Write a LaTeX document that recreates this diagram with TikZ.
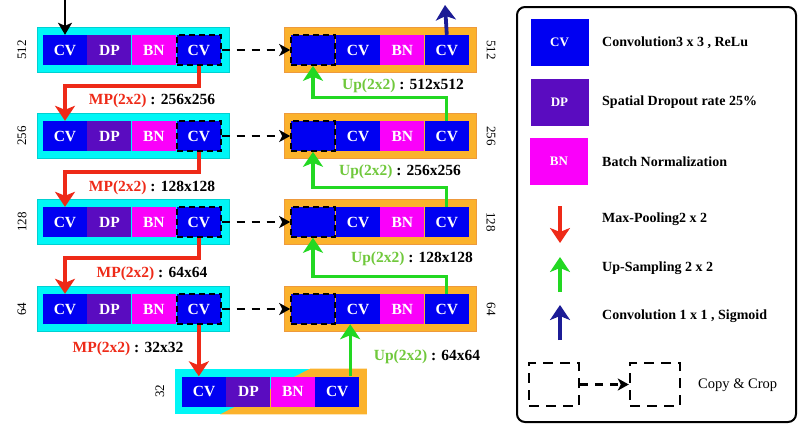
\documentclass[tikz,border=0pt]{standalone}
\usepackage{fontspec}
\setmainfont{Liberation Serif}
\usetikzlibrary{positioning,arrows.meta,calc}
\definecolor{cvblue}{HTML}{0000F2}
\definecolor{dppurple}{HTML}{5A0CC0}
\definecolor{bnpink}{HTML}{FA00FA}
\definecolor{enccyan}{HTML}{00F6F6}
\definecolor{decorange}{HTML}{FBB22C}
\definecolor{decedge}{HTML}{EE9A3C}
\definecolor{poolred}{HTML}{EE2A18}
\definecolor{upgreen}{HTML}{22D822}
\definecolor{uptext}{HTML}{70C83C}
\definecolor{outnavy}{HTML}{1C1C96}

\begin{document}
\begin{tikzpicture}[x=1pt,y=-1pt,
cell/.style={rectangle,minimum width=44pt,minimum height=30pt,inner sep=0pt,text=white,font=\bfseries\fontsize{15.5}{15.5}\selectfont},
cv/.style={cell,fill=cvblue},
dp/.style={cell,fill=dppurple},
bn/.style={cell,fill=bnpink},
crop/.style={draw=black,dash pattern=on 6pt off 4pt,line width=1.6pt},
keybox/.style={draw=black,dash pattern=on 10pt off 7pt,line width=2.4pt,minimum width=50pt,minimum height=43pt},
encbg/.style={rectangle,fill=enccyan,draw=enccyan!85!black,line width=0.6pt,minimum width=192pt,minimum height=45pt,inner sep=0pt},
decbg/.style={encbg,fill=decorange,draw=decedge},
pool/.style={-{Stealth[length=15pt,width=20pt,inset=4pt]},draw=poolred,line width=3.8pt},
upflow/.style={pool,draw=upgreen,line width=3.2pt},
outflow/.style={pool,draw=outnavy},
inflow/.style={-{Stealth[length=12pt,width=14pt,inset=3pt]},draw=black,line width=1.8pt},
copyflow/.style={-{Stealth[length=11pt,width=12pt,inset=3pt]},draw=black,line width=2.6pt,dash pattern=on 8pt off 7pt},
lbl/.style={font=\bfseries\fontsize{15.5}{16}\selectfont,inner sep=0pt},
dim/.style={font=\fontsize{13}{13}\selectfont,inner sep=0pt},
key/.style={font=\bfseries\fontsize{14}{15}\selectfont,anchor=west,inner sep=0pt},
swatch/.style={rectangle,minimum width=58pt,minimum height=47pt,inner sep=0pt,text=white,font=\bfseries\fontsize{13}{13}\selectfont}]
\useasboundingbox (0,0) rectangle (805,434);

% encoder
\node[encbg] (e1) at (133,50) {};
\node[cv] (e1c1) at (65,50) {CV};
\node[dp,right=0pt of e1c1] (e1c2) {DP};
\node[bn,right=0pt of e1c2] (e1c3) {BN};
\node[cv,crop,right=0pt of e1c3] (e1c4) {CV};

\node[encbg] (e2) at (133,136) {};
\node[cv] (e2c1) at (65,136) {CV};
\node[dp,right=0pt of e2c1] (e2c2) {DP};
\node[bn,right=0pt of e2c2] (e2c3) {BN};
\node[cv,crop,right=0pt of e2c3] (e2c4) {CV};

\node[encbg] (e3) at (133,222) {};
\node[cv] (e3c1) at (65,222) {CV};
\node[dp,right=0pt of e3c1] (e3c2) {DP};
\node[bn,right=0pt of e3c2] (e3c3) {BN};
\node[cv,crop,right=0pt of e3c3] (e3c4) {CV};

\node[encbg] (e4) at (133,309) {};
\node[cv] (e4c1) at (65,309) {CV};
\node[dp,right=0pt of e4c1] (e4c2) {DP};
\node[bn,right=0pt of e4c2] (e4c3) {BN};
\node[cv,crop,right=0pt of e4c3] (e4c4) {CV};

% bottleneck
\node[encbg,draw=none] (b0) at (270.5,391.5) {};
\fill[decorange] ([xshift=136pt]b0.north west) -- (b0.north east) -- (b0.south east) -- ([xshift=46pt]b0.south west) -- cycle;
\node[cv] (b1) at (204,391.5) {CV};
\node[dp,right=0pt of b1] (b2) {DP};
\node[bn,right=0pt of b2] (b3) {BN};
\node[cv,right=0pt of b3] (b4) {CV};

% decoder
\node[decbg] (d1) at (380.5,50) {};
\node[cv,crop] (d1c1) at (313,50) {};
\node[cv,right=0pt of d1c1] (d1c2) {CV};
\node[bn,right=0pt of d1c2] (d1c3) {BN};
\node[cv,right=0pt of d1c3] (d1c4) {CV};

\node[decbg] (d2) at (380.5,136) {};
\node[cv,crop] (d2c1) at (313,136) {};
\node[cv,right=0pt of d2c1] (d2c2) {CV};
\node[bn,right=0pt of d2c2] (d2c3) {BN};
\node[cv,right=0pt of d2c3] (d2c4) {CV};

\node[decbg] (d3) at (380.5,222) {};
\node[cv,crop] (d3c1) at (313,222) {};
\node[cv,right=0pt of d3c1] (d3c2) {CV};
\node[bn,right=0pt of d3c2] (d3c3) {BN};
\node[cv,right=0pt of d3c3] (d3c4) {CV};

\node[decbg] (d4) at (380.5,309) {};
\node[cv,crop] (d4c1) at (313,309) {};
\node[cv,right=0pt of d4c1] (d4c2) {CV};
\node[bn,right=0pt of d4c2] (d4c3) {BN};
\node[cv,right=0pt of d4c3] (d4c4) {CV};

% sizes
\node[dim,rotate=90] (s1) at (22,50) {512};
\node[dim,rotate=90] (s2) at (22,136) {256};
\node[dim,rotate=90] (s3) at (22,222) {128};
\node[dim,rotate=90] (s4) at (22,309) {64};
\node[dim,rotate=90] (s5) at (160,391) {32};
\node[dim,rotate=-90] (t1) at (491,50) {512};
\node[dim,rotate=-90] (t2) at (491,136) {256};
\node[dim,rotate=-90] (t3) at (491,222) {128};
\node[dim,rotate=-90] (t4) at (491,309) {64};

% flows
\coordinate (src) at (65,0);
\coordinate (sink) at (445,5);
\draw[inflow] (src) -- (e1c1.north);
\draw[outflow] (d1c4.north) -- (sink);

\draw[pool] (e1c4.south) -- ++(0,20) -| (e2c1.north);
\draw[pool] (e2c4.south) -- ++(0,20) -| (e3c1.north);
\draw[pool] (e3c4.south) -- ++(0,20) -| (e4c1.north);
\draw[pool] (e4c4.south) -- (e4c4.south |- b1.north);
\node[lbl] (mp1) at (152,101) {\textcolor{poolred}{MP(2x2)} : 256x256};
\node[lbl] (mp2) at (152,188) {\textcolor{poolred}{MP(2x2)} : 128x128};
\node[lbl] (mp3) at (152,274) {\textcolor{poolred}{MP(2x2)} : 64x64};
\node[lbl] (mp4) at (128,349) {\textcolor{poolred}{MP(2x2)} : 32x32};

\draw[upflow] ([xshift=13pt]b4.north) -- ([xshift=13pt]b4.north |- d4c2.south);
\draw[upflow] (d4c4.north) -- ++(0,-17) -| (d3c1.south);
\draw[upflow] (d3c4.north) -- ++(0,-19) -| (d2c1.south);
\draw[upflow] (d2c4.north) -- ++(0,-23) -| (d1c1.south);
\node[lbl] (up1) at (403,86) {\textcolor{uptext}{Up(2x2)} : 512x512};
\node[lbl] (up2) at (400,172) {\textcolor{uptext}{Up(2x2)} : 256x256};
\node[lbl] (up3) at (412,259) {\textcolor{uptext}{Up(2x2)} : 128x128};
\node[lbl] (up4) at (427,357) {\textcolor{uptext}{Up(2x2)} : 64x64};

\draw[copyflow] (e1c4.east) -- (d1c1.west);
\draw[copyflow] (e2c4.east) -- (d2c1.west);
\draw[copyflow] (e3c4.east) -- (d3c1.west);
\draw[copyflow] (e4c4.east) -- (d4c1.west);

% legend
\node[draw=black,line width=2pt,rounded corners=8pt,minimum width=279pt,minimum height=415pt] (key) at (656.5,214.5) {};
\node[swatch,fill=cvblue] (kcv) at (559.5,42.5) {CV};
\node[key] (kcvt) at (602,43) {Convolution3 x 3 , ReLu};
\node[swatch,fill=dppurple] (kdp) at (559.5,102) {DP};
\node[key] (kdpt) at (602,102) {Spatial Dropout rate 25\%};
\node[swatch,fill=bnpink] (kbn) at (559,161) {BN};
\node[key] (kbnt) at (602,162) {Batch Normalization};
\coordinate (kp1) at (560,206);
\coordinate (kp2) at (560,243);
\draw[pool] (kp1) -- (kp2);
\node[key] (kpt) at (602,219) {Max-Pooling2 x 2};
\coordinate (ku1) at (560,292);
\coordinate (ku2) at (560,257);
\draw[upflow] (ku1) -- (ku2);
\node[key] (kut) at (602,268) {Up-Sampling 2 x 2};
\coordinate (ko1) at (560,340);
\coordinate (ko2) at (560,305);
\draw[outflow] (ko1) -- (ko2);
\node[key] (kot) at (602,316) {Convolution 1 x 1 , Sigmoid};
\node[keybox] (kbox1) at (554,384.5) {};
\node[keybox] (kbox2) at (655,384.5) {};
\draw[copyflow] (kbox1.east) -- (kbox2.west);
\node[key,font=\fontsize{14.5}{15}\selectfont] (kct) at (698,385) {Copy \& Crop};
\end{tikzpicture}
\end{document}
